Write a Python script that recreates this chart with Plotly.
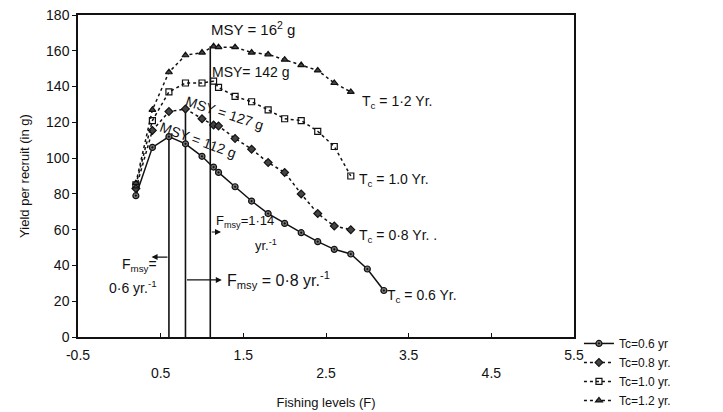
import plotly.graph_objects as go

# ---- data ----
F_06 = [0.2, 0.4, 0.6, 0.8, 1.0, 1.14, 1.2, 1.4, 1.6, 1.8, 2.0, 2.2, 2.4, 2.6, 2.8, 3.0, 3.2]
Y_06 = [79, 106, 112, 108, 101, 95, 92, 84, 76, 69, 63.5, 58.3, 53.3, 49, 46.4, 38, 26]

F_08 = [0.2, 0.4, 0.6, 0.8, 1.0, 1.14, 1.2, 1.4, 1.6, 1.8, 2.0, 2.2, 2.4, 2.6, 2.8]
Y_08 = [83, 115.5, 126, 127.5, 122, 118.5, 118, 111, 105, 97.5, 92, 80, 69, 62, 60]

F_10 = [0.2, 0.4, 0.6, 0.8, 1.0, 1.14, 1.2, 1.4, 1.6, 1.8, 2.0, 2.2, 2.4, 2.6, 2.8]
Y_10 = [85, 121, 137, 142, 142, 143, 139.5, 134.5, 131.5, 127, 122, 121, 115, 106.5, 90]

F_12 = [0.2, 0.4, 0.6, 0.8, 1.0, 1.14, 1.2, 1.4, 1.6, 1.8, 2.0, 2.2, 2.4, 2.6, 2.8]
Y_12 = [86, 127, 148, 157.5, 159, 162.5, 162, 162, 159, 158, 155, 152, 149, 142, 137]

series_names = ["Tc=0.6 yr", "Tc=0.8 yr.", "Tc=1.0 yr.", "Tc=1.2 yr."]

vline_F = [0.6, 0.8, 1.1]
vline_top = [112, 127.5, 162.5]

x_tickvals = [-0.5, 0.5, 1.5, 2.5, 3.5, 4.5, 5.5]
x_ticktext = ["-0.5", "<br>0.5", "1.5", "<br>2.5", "3.5", "<br>4.5", "5.5"]
y_tickvals = [0, 20, 40, 60, 80, 100, 120, 140, 160, 180]

FONT = "Liberation Sans"
BLACK = "#111111"

fig = go.Figure()

# vertical Fmsy lines
for f, top in zip(vline_F, vline_top):
    fig.add_trace(go.Scatter(x=[f, f], y=[0, top], mode="lines",
                             line=dict(color=BLACK, width=1.6),
                             showlegend=False, hoverinfo="skip"))

styles = [
    dict(dash="solid", symbol="circle-dot", color="#777777", size=6),
    dict(dash="dot", symbol="diamond", color="#444444", size=6),
    dict(dash="dot", symbol="square-open", color=BLACK, size=6),
    dict(dash="dot", symbol="triangle-up", color="#444444", size=6),
]
for (fx, fy), name, st in zip([(F_06, Y_06), (F_08, Y_08), (F_10, Y_10), (F_12, Y_12)],
                              series_names, styles):
    fig.add_trace(go.Scatter(
        x=fx, y=fy, mode="lines+markers", name=name,
        line=dict(color=BLACK, width=1.5, dash=st["dash"]),
        marker=dict(symbol=st["symbol"], size=st["size"], color=st["color"],
                    line=dict(color=BLACK, width=1.2)),
    ))

ann = []
def txt(x, y, t, size=14, xanchor="center", yanchor="middle", angle=0, align="left"):
    ann.append(dict(x=x, y=y, xref="x", yref="y", text=t, showarrow=False,
                    xanchor=xanchor, yanchor=yanchor, textangle=angle, align=align,
                    font=dict(family=FONT, size=size, color=BLACK)))

def arrow(x_head, y_head, x_tail, y_tail):
    ann.append(dict(x=x_head, y=y_head, ax=x_tail, ay=y_tail, xref="x", yref="y",
                    axref="x", ayref="y", text="", showarrow=True,
                    arrowhead=2, arrowsize=1, arrowwidth=1.2, arrowcolor=BLACK))

txt(1.62, 172.2, "MSY = 16<sup>2</sup> g", size=15)
txt(1.1, 148.1, "MSY= 142 g", size=14, xanchor="left")
txt(1.27, 125.0, "MSY = 127 g", size=14, angle=18)
txt(0.95, 110.0, "MSY = 112 g", size=14, angle=20)

txt(2.91, 131.4, "T<sub>c</sub> = 1·2 Yr.", size=14, xanchor="left")
txt(2.87, 87.8, "T<sub>c</sub> = 1.0 Yr.", size=14, xanchor="left")
txt(2.87, 56.5, "T<sub>c</sub> = 0·8 Yr. .", size=14, xanchor="left")
txt(3.21, 22.9, "T<sub>c</sub> = 0.6 Yr.", size=14, xanchor="left")

txt(1.14, 64.3, "F<sub>msy</sub>=1·14", size=13, xanchor="left")
txt(1.62, 51.4, "yr.<sup>-1</sup>", size=13, xanchor="left")
txt(1.28, 31.9, "F<sub>msy</sub> = 0·8 yr.<sup>-1</sup>", size=16, xanchor="left")
txt(0.48, 40.5, "F<sub>msy</sub>=", size=14, xanchor="right")
txt(0.48, 28.0, "0·6 yr.<sup>-1</sup>", size=14, xanchor="right")

arrow(1.23, 58.7, 1.1, 58.7)
arrow(1.24, 31.9, 0.8, 31.9)
arrow(0.39, 44.7, 0.6, 44.7)

fig.update_layout(
    width=723, height=412,
    margin=dict(l=78, r=149, t=15, b=75, autoexpand=False),
    paper_bgcolor="white", plot_bgcolor="white",
    font=dict(family=FONT, size=13, color=BLACK),
    annotations=ann,
    showlegend=True,
    legend=dict(x=1.01, y=0.025, xanchor="left", yanchor="top",
                font=dict(family=FONT, size=12, color=BLACK),
                bgcolor="rgba(0,0,0,0)", tracegroupgap=0, itemwidth=30),
    xaxis=dict(range=[-0.5, 5.5], tickvals=x_tickvals, ticktext=x_ticktext,
               showgrid=False, zeroline=False, showline=True, linecolor=BLACK,
               linewidth=1.5, mirror=True, ticks="inside", ticklen=4,
               tickcolor=BLACK, tickfont=dict(family=FONT, size=14, color=BLACK),
               ticklabelstandoff=4,
               title=dict(text="Fishing levels (F)", standoff=18,
                          font=dict(family=FONT, size=13, color=BLACK))),
    yaxis=dict(range=[0, 180], tickvals=y_tickvals,
               showgrid=False, zeroline=False, showline=True, linecolor=BLACK,
               linewidth=1.5, mirror=True, ticks="outside", ticklen=4,
               tickcolor=BLACK, tickfont=dict(family=FONT, size=14, color=BLACK),
               title=dict(text="Yield per recruit (in g)", standoff=14,
                          font=dict(family=FONT, size=13, color=BLACK))),
)

fig.write_html("out.html")
